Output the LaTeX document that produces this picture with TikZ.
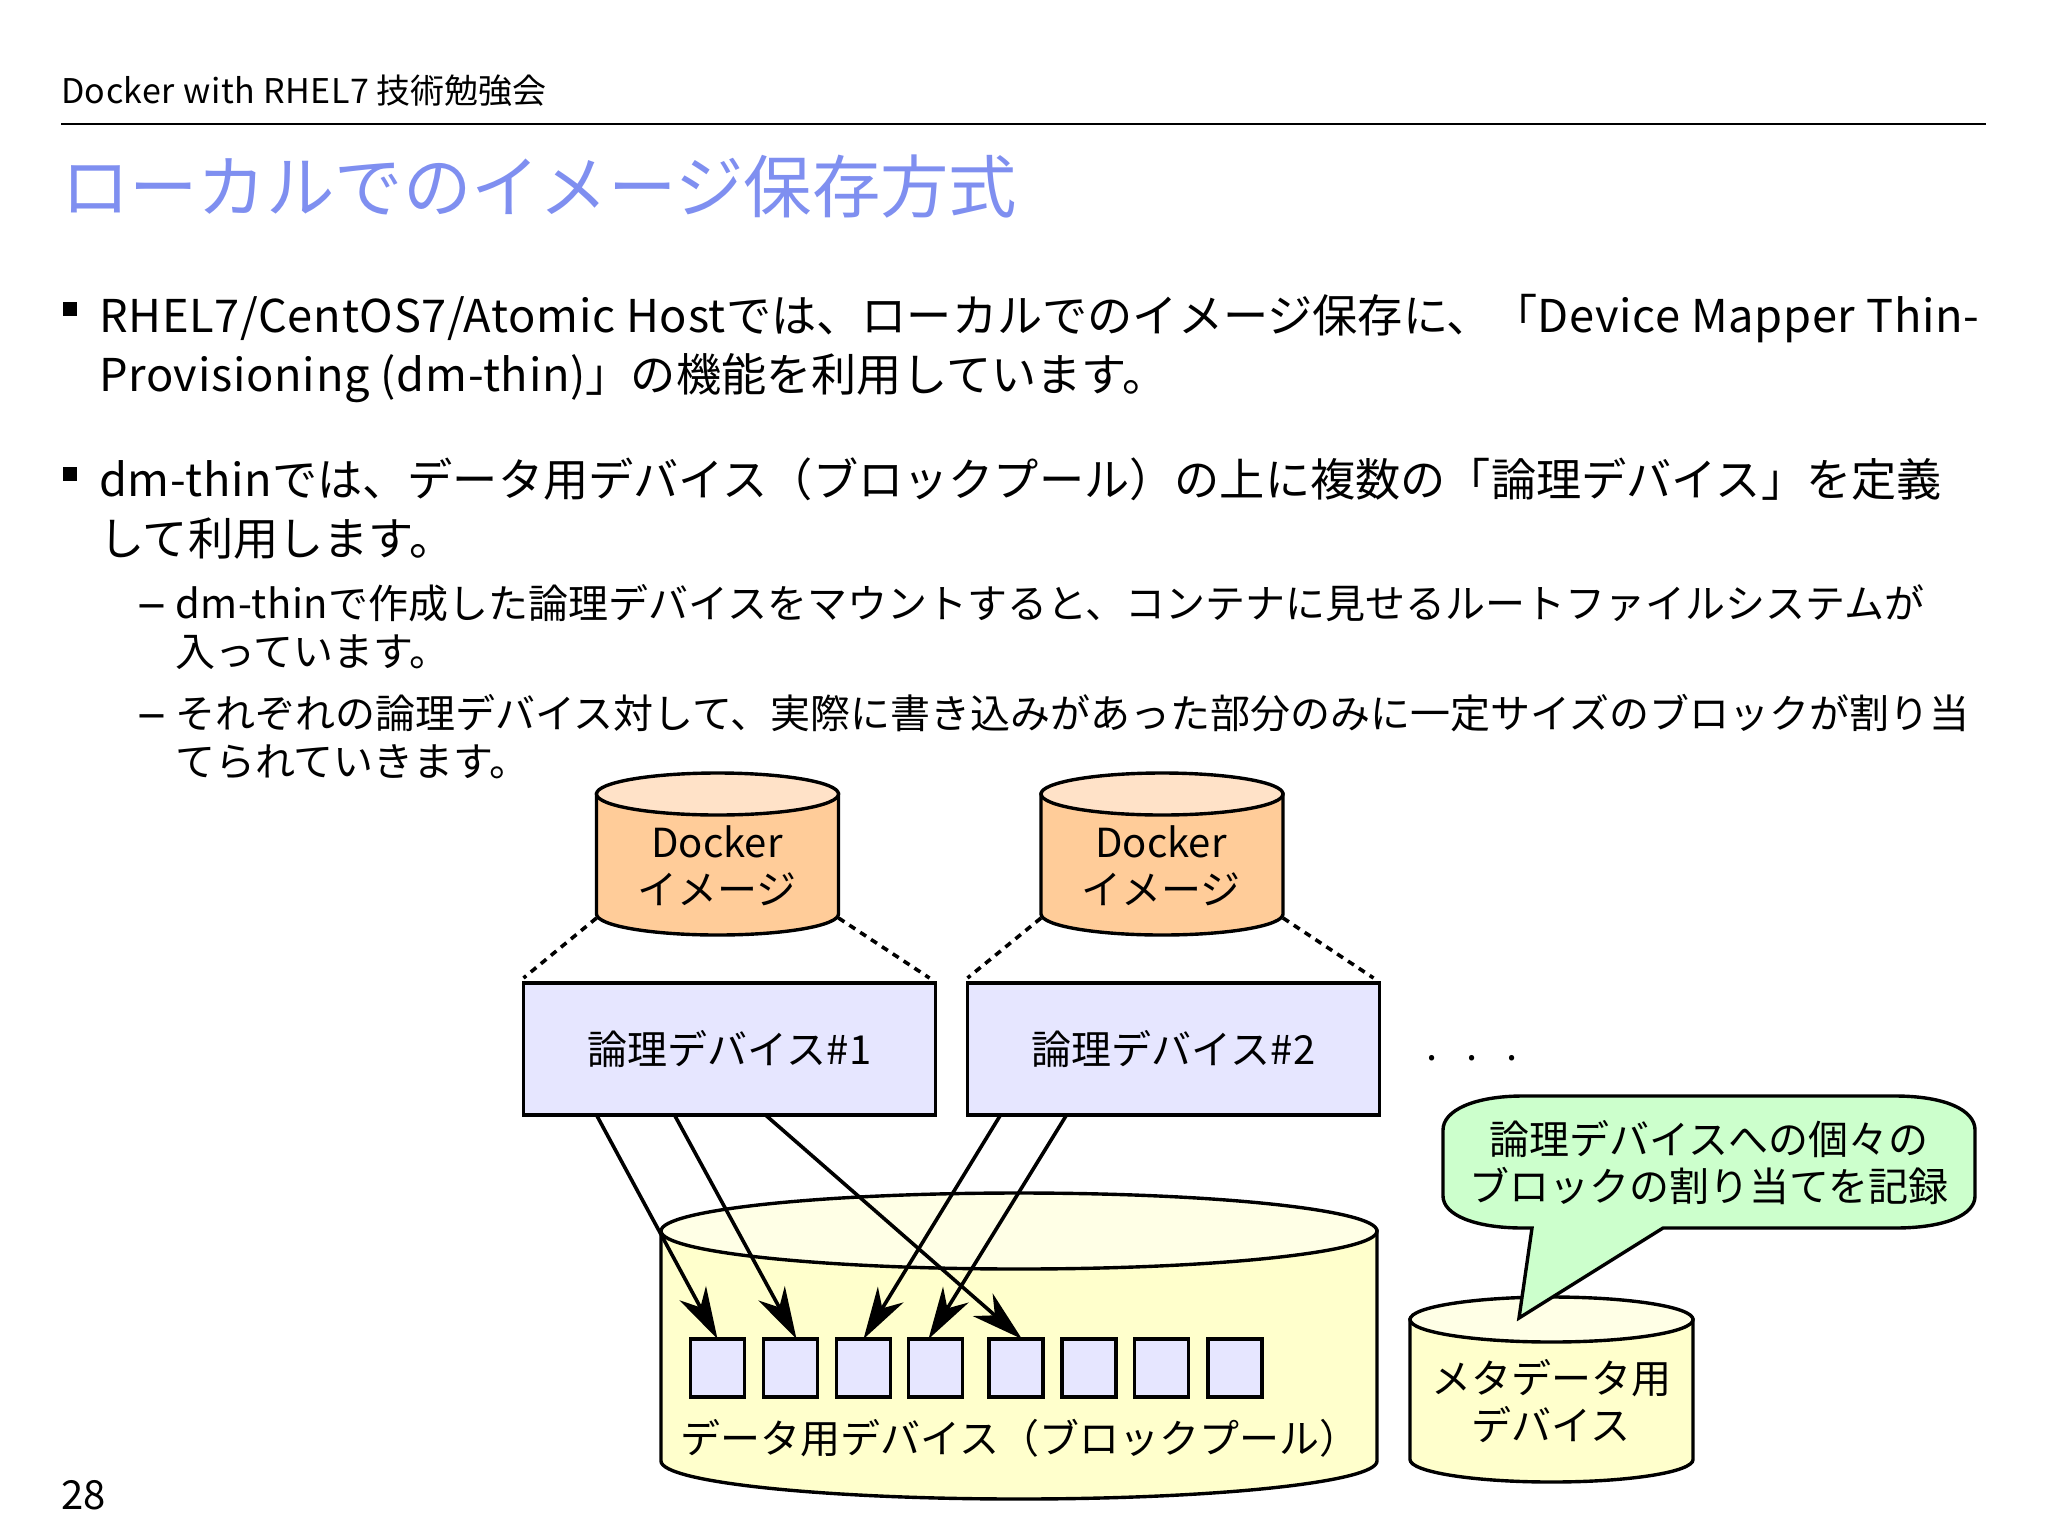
\documentclass[tikz,border=0pt]{standalone}
\usepackage{fontspec}
\setmainfont{Noto Sans CJK JP}
\newcommand{\lat}[1]{{\addfontfeature{LetterSpace=1.6}#1}}
\usepackage{tikz}
\usetikzlibrary{arrows.meta,calc}
\definecolor{titleblue}{HTML}{7F8FF0}
\definecolor{orangebody}{HTML}{FFCC99}
\definecolor{orangetop}{HTML}{FFE2C8}
\definecolor{yellowbody}{HTML}{FFFFCC}
\definecolor{yellowtop}{HTML}{FFFFE6}
\definecolor{devblue}{HTML}{E6E6FF}
\definecolor{notegreen}{HTML}{CCFFCC}
\tikzset{
  % text styles
  plain/.style={inner sep=0pt, outer sep=0pt, align=left},
  head/.style={plain, anchor=base west, font=\fontsize{17}{20}\selectfont},
  body/.style={plain, anchor=base west, font=\fontsize{22.6}{29.5}\selectfont},
  subbody/.style={plain, anchor=base west, font=\fontsize{20}{23.7}\selectfont},
  figtext/.style={inner sep=0pt, outer sep=0pt, align=center, font=\fontsize{20}{23.5}\selectfont},
  % shape styles
  mark square/.style={fill=black, minimum size=7pt, inner sep=0pt, outer sep=0pt},
  outline/.style={draw, line width=1.7pt},
  device/.style={outline, fill=devblue, minimum width=206pt, minimum height=66pt,
    inner sep=0pt, outer sep=0pt, font=\fontsize{20}{23.5}\selectfont},
  block/.style={outline, fill=devblue, minimum width=27pt, minimum height=29pt,
    inner sep=0pt, outer sep=0pt},
  dotted link/.style={line width=1.8pt, dash pattern=on 3.5pt off 3pt},
  alloc/.style={line width=1.8pt, -{Stealth[length=26pt, width=15pt, inset=8pt]}},
}
% name, centre x, top y, x radius, bottom y, y radius, colour prefix
\newcommand{\drum}[7]{
  \draw[outline, fill=#7body] (#2-#4,#3+#6) -- (#2-#4,#5-#6)
    arc[start angle=180, end angle=0, x radius=#4, y radius=#6] -- (#2+#4,#3+#6) -- cycle;
  \draw[outline, fill=#7top] (#2,#3+#6) ellipse[x radius=#4, y radius=#6];
  \coordinate (#1 west) at (#2-#4,#5-#6+4);
  \coordinate (#1 east) at (#2+#4,#5-#6+4);
}
\begin{document}
\begin{tikzpicture}[x=.5pt, y=-.5pt]
\useasboundingbox (0,0) rectangle (2048,1536);

% Header
\node[head] (header) at (61,104) {\lat{Docker with RHEL7} 技術勉強会};
\coordinate (rule left) at (61,124);
\coordinate (rule right) at (1986,124);
\draw[line width=1pt] (rule left) -- (rule right);
\node[plain, anchor=base west, text=titleblue, font=\fontsize{34.2}{40}\selectfont] (title) at (61,212) {ローカルでのイメージ保存方式};

% Bullets
\node[mark square] (mark1) at (70,309) {};
\node[body] (para1) at (99,391) {\lat{RHEL7/CentOS7/Atomic Host}では、ローカルでのイメージ保存に、「\lat{Device Mapper Thin-}\\\lat{Provisioning (dm-thin)}」の機能を利用しています。};
\node[mark square] (mark2) at (70,474) {};
\node[body] (para2) at (99,555) {\lat{dm-thin}では、データ用デバイス（ブロックプール）の上に複数の「論理デバイス」を定義\\して利用します。};
\node[subbody, font=\fontsize{27}{30}\selectfont] (dash1) at (137,621) {–};
\node[subbody] (sub1) at (175,666) {\lat{dm-thin}で作成した論理デバイスをマウントすると、コンテナに見せるルートファイルシステムが\\入っています。};
\node[subbody, font=\fontsize{27}{30}\selectfont] (dash2) at (137,731) {–};
\node[subbody] (sub2) at (175,776) {それぞれの論理デバイス対して、実際に書き込みがあった部分のみに一定サイズのブロックが割り当\\てられていきます。};

% Docker images
\drum{img1}{717.5}{773}{121}{935}{21}{orange}
\drum{img2}{1162}{773}{121}{935}{21}{orange}
\node[figtext] (img1 text) at (717,866) {Docker\\イメージ};
\node[figtext] (img2 text) at (1161,866) {Docker\\イメージ};

% Logical devices
\node[device] (dev1) at (729.5,1049) {論理デバイス\lat{\#1}};
\node[device] (dev2) at (1173.5,1049) {論理デバイス\lat{\#2}};
\node[figtext] (more) at (1472,1058) {.\hspace{14.5pt}.\hspace{14.5pt}.};

\foreach \n in {1,2} {
  \coordinate (c\n) at ($(dev\n.north west)+(0,-5)$);
  \coordinate (d\n) at ($(dev\n.north east)+(-6,-5)$);
  \draw[dotted link] (img\n\space west) -- (c\n);
  \draw[dotted link] (img\n\space east) -- (d\n);
}

% Pool and blocks
\drum{pool}{1019}{1193}{358}{1499}{38}{yellow}
\foreach \i/\x in {1/717.5,2/790.5,3/863.5,4/935.5,5/1016,6/1089,7/1161.5,8/1235} {
  \node[block] (blk\i) at (\x,1368) {};
}
\node[figtext] (pool text) at (1020,1438) {データ用デバイス（ブロックプール）};

% Metadata device
\drum{meta}{1551.5}{1297}{141.5}{1482}{22.5}{yellow}
\node[figtext] (meta text) at (1551,1401) {メタデータ用\\デバイス};

% Allocation arrows
\coordinate (s1) at ($(dev1.south west)+(73,0)$);
\coordinate (s2) at ($(dev1.south west)+(151,0)$);
\coordinate (s3) at ($(dev1.south west)+(242,0)$);
\coordinate (s4) at ($(dev2.south west)+(33,0)$);
\coordinate (s5) at ($(dev2.south west)+(99,0)$);
\draw[alloc] (s1) -- (blk1.north);
\draw[alloc] (s2) -- ($(blk2.north)+(6,0)$);
\draw[alloc] (s3) -- ($(blk5.north)+(6,0)$);
\draw[alloc] (s4) -- (blk3.north);
\draw[alloc] (s5) -- ($(blk4.north)+(-7,0)$);

% Balloon
\draw[outline, fill=notegreen] (1523,1096) -- (1895,1096)
  .. controls (1945,1096) and (1975,1110) .. (1975,1130) -- (1975,1196)
  .. controls (1975,1215) and (1945,1228) .. (1895,1228) -- (1663,1228)
  -- (1519,1318) -- (1532,1228) -- (1523,1228)
  .. controls (1475,1228) and (1443,1215) .. (1443,1196) -- (1443,1130)
  .. controls (1443,1110) and (1475,1096) .. (1523,1096) -- cycle;
\node[figtext] (note) at (1709,1163) {論理デバイスへの個々の\\ブロックの割り当てを記録};

% Page number
\node[head, font=\fontsize{20}{24}\selectfont] (page) at (61,1509) {28};

\end{tikzpicture}
\end{document}
